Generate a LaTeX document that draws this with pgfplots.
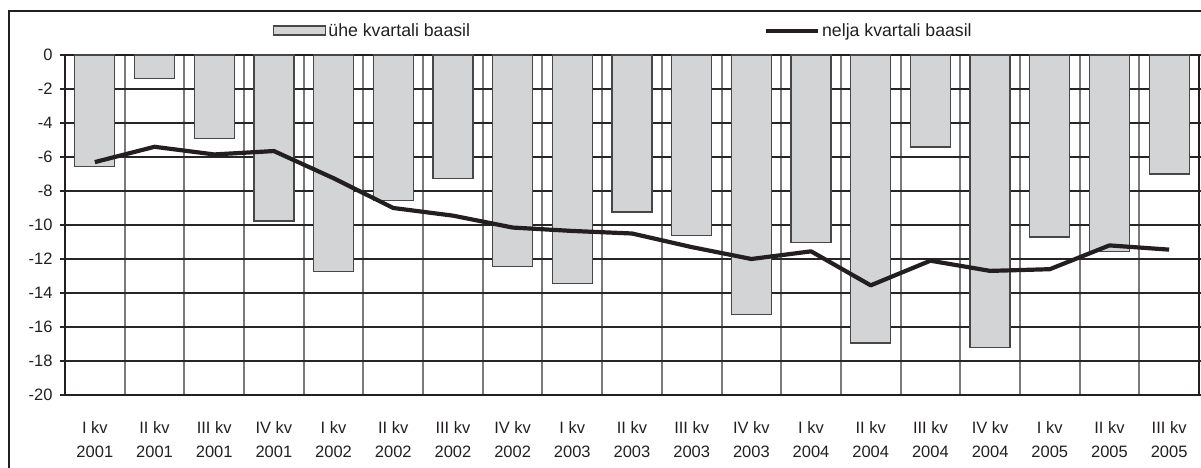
\documentclass[border=0pt]{standalone}
\usepackage{fontspec}
\setmainfont{Liberation Sans}
\usepackage{pgfplots}
\pgfplotsset{compat=1.18}
\definecolor{barfill}{HTML}{D3D4D6}
\definecolor{bardraw}{HTML}{474747}
\definecolor{vgrid}{HTML}{7A7A7A}
\definecolor{hgrid}{HTML}{262626}
\definecolor{ink}{HTML}{231F20}

\begin{document}
\begin{tikzpicture}[x=1pt,y=1pt]
\path[use as bounding box] (0,0) rectangle (1201,468);
\draw[line width=1.3pt, ink] (9,-5) -- (9,457) -- (1210,457);
\begin{axis}[
  at={(65pt,73pt)}, anchor=south west,
  scale only axis, width=1134pt, height=340pt,
  xmin=-0.5, xmax=18.5, ymin=-20, ymax=0,
  ytick={-20,-18,...,0},
  xtick={0,...,18},
  xticklabels={{I kv\\2001},{II kv\\2001},{III kv\\2001},{IV kv\\2001},
    {I kv\\2002},{II kv\\2002},{III kv\\2002},{IV kv\\2002},
    {I kv\\2003},{II kv\\2003},{III kv\\2003},{IV kv\\2003},
    {I kv\\2004},{II kv\\2004},{III kv\\2004},{IV kv\\2004},
    {I kv\\2005},{II kv\\2005},{III kv\\2005}},
  minor xtick={0.5,1.5,...,17.5},
  minor x grid style={vgrid, line width=2pt},
  xminorgrids=true,
  ymajorgrids=true,
  major y grid style={hgrid, line width=1.3pt},
  axis line style={ink, line width=1.7pt},
  x tick style={draw=none}, minor x tick style={draw=none},
  y tick style={hgrid, line width=1.3pt},
  tick align=outside, major tick length=5pt,
  /pgf/number format/assume math mode=true,
  tick label style={font=\fontsize{16.5}{24.5}\selectfont, text=ink},
  xticklabel style={align=center, anchor=north, yshift=-18pt},
  yticklabel style={anchor=east, xshift=-4pt},
  legend columns=2,
  legend style={draw=none, fill=none, inner sep=0pt,
    at={(0.1834,1.072)}, anchor=west,
    font=\fontsize{17.7}{20}\selectfont, text=ink,
    /tikz/every even column/.append style={column sep=292pt}},
  legend cell align=left,
]
\addplot[ybar, bar width=40pt, fill=barfill, draw=bardraw, line width=1.3pt,
  legend image code/.code={\draw[barfill, draw=bardraw, line width=1.3pt] (-46pt,-4.5pt) rectangle (6pt,4.5pt);}]
coordinates {(0,-6.55) (1,-1.4) (2,-4.9) (3,-9.77) (4,-12.75) (5,-8.55)
  (6,-7.25) (7,-12.45) (8,-13.45) (9,-9.24) (10,-10.6) (11,-15.26)
  (12,-11.05) (13,-16.95) (14,-5.42) (15,-17.2) (16,-10.7) (17,-11.55)
  (18,-7.0)};
\addlegendentry{ühe kvartali baasil}
\addplot[ink, line width=4.2pt, line join=round,
  legend image code/.code={\draw[ink, line width=4pt] (-46pt,0pt) -- (6pt,0pt);}]
coordinates {(0,-6.3) (1,-5.4) (2,-5.85) (3,-5.65) (4,-7.25) (5,-9.0)
  (6,-9.45) (7,-10.15) (8,-10.35) (9,-10.5) (10,-11.3) (11,-12.0)
  (12,-11.55) (13,-13.55) (14,-12.1) (15,-12.7) (16,-12.6) (17,-11.2)
  (18,-11.45)};
\addlegendentry{nelja kvartali baasil}
\end{axis}
\end{tikzpicture}
\end{document}
